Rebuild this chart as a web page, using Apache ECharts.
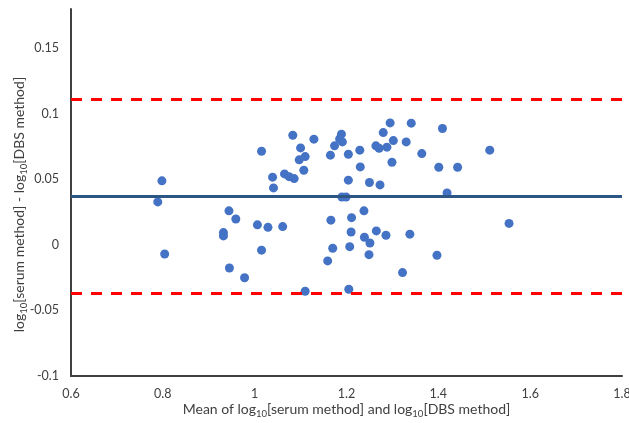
<!DOCTYPE html>
<html>
<head>
<meta charset="utf-8">
<script src="https://cdn.jsdelivr.net/npm/echarts@6/dist/echarts.min.js"></script>
<style>
html,body{margin:0;padding:0;background:#fff;}
#chart{width:629px;height:423px;}
</style>
</head>
<body>
<div id="chart"></div>
<script>
// Mean of log10[serum] and log10[DBS]
const meanValues = [0.789,0.798,0.804,0.932,0.932,0.944,0.959,0.945,0.978,1.006,1.015,1.015,1.029,1.039,1.041,1.061,1.065,1.075,1.086,1.083,1.100,1.097,1.110,1.107,1.110,1.129,1.159,1.165,1.166,1.170,1.174,1.185,1.189,1.191,1.190,1.199,1.204,1.204,1.211,1.210,1.207,1.205,1.229,1.230,1.238,1.239,1.250,1.251,1.249,1.264,1.271,1.265,1.273,1.280,1.288,1.286,1.295,1.302,1.299,1.322,1.330,1.338,1.341,1.364,1.397,1.401,1.409,1.419,1.442,1.512,1.554];
// Difference log10[serum] - log10[DBS]
const diffValues = [0.0328,0.0489,-0.0069,0.0094,0.0069,0.0260,0.0198,-0.0176,-0.0250,0.0153,0.0715,-0.0040,0.0134,0.0517,0.0435,0.0140,0.0542,0.0521,0.0506,0.0837,0.0740,0.0649,0.0674,0.0570,-0.0353,0.0807,-0.0122,0.0685,0.0189,-0.0025,0.0756,0.0809,0.0845,0.0786,0.0366,0.0366,0.0692,0.0494,0.0208,0.0099,-0.0013,-0.0338,0.0723,0.0595,0.0260,0.0059,0.0476,0.0015,-0.0074,0.0756,0.0738,0.0107,0.0458,0.0857,0.0746,0.0074,0.0931,0.0796,0.0631,-0.0211,0.0786,0.0082,0.0929,0.0697,-0.0079,0.0593,0.0888,0.0397,0.0593,0.0723,0.0164];
const meanDiff = 0.037;
const upperLoA = 0.111;
const lowerLoA = -0.037;
const xRange = [0.6, 1.8];
const yRange = [-0.1, 0.18];
const xTickStep = 0.2;
const yTickStep = 0.05;

const points = meanValues.map((m, i) => [m, diffValues[i]]);
const hLine = v => [[xRange[0], v], [xRange[1], v]];

const font = 'Lato, "Open Sans", sans-serif';
const txt = '#404040';
const nameRich = {
  n: {fontSize: 14, fontFamily: font, color: txt},
  sub: {fontSize: 9.5, fontFamily: font, color: txt, padding: [9, 0, 0, 0]}
};
const fmt = v => String(parseFloat(Number(v).toFixed(3)));

const chart = echarts.init(document.getElementById('chart'), null, {renderer: 'canvas'});
chart.setOption({
  animation: false,
  backgroundColor: '#ffffff',
  grid: {left: 71, right: 7, top: 9, bottom: 47, containLabel: false, outerBoundsMode: 'none'},
  xAxis: {
    type: 'value', min: xRange[0], max: xRange[1], interval: xTickStep,
    axisLine: {show: true, onZero: false, lineStyle: {color: txt, width: 2}},
    axisTick: {show: false},
    splitLine: {show: false},
    axisLabel: {color: txt, fontSize: 12.5, fontFamily: font, margin: 11, formatter: fmt},
    name: '{n|Mean of log}{sub|10}{n|[serum method] and log}{sub|10}{n|[DBS method]}',
    nameLocation: 'middle', nameGap: 24, nameMoveOverlap: false,
    nameTextStyle: {rich: nameRich}
  },
  yAxis: {
    type: 'value', min: yRange[0], max: yRange[1], interval: yTickStep,
    axisLine: {show: true, onZero: false, lineStyle: {color: txt, width: 2}},
    axisTick: {show: false},
    splitLine: {show: false},
    axisLabel: {color: txt, fontSize: 12.5, fontFamily: font, margin: 12, showMaxLabel: false, formatter: fmt},
    name: '{n|log}{sub|10}{n|[serum method] - log}{sub|10}{n|[DBS method]}',
    nameLocation: 'middle', nameGap: 42, nameRotate: 90, nameMoveOverlap: false,
    nameTextStyle: {rich: nameRich, padding: [0, 24, 0, 0]}
  },
  series: [
    {
      type: 'scatter', data: points, symbol: 'circle', symbolSize: 9,
      itemStyle: {color: '#4472C4', opacity: 1}, z: 2
    },
    {
      type: 'line', data: hLine(meanDiff), symbol: 'none',
      lineStyle: {color: '#2C5684', width: 3}, z: 3
    },
    {
      type: 'line', data: hLine(upperLoA), symbol: 'none',
      lineStyle: {color: '#FF0000', width: 3, type: [11, 9]}, z: 3
    },
    {
      type: 'line', data: hLine(lowerLoA), symbol: 'none',
      lineStyle: {color: '#FF0000', width: 3, type: [11, 9]}, z: 3
    }
  ]
});
</script>
</body>
</html>
